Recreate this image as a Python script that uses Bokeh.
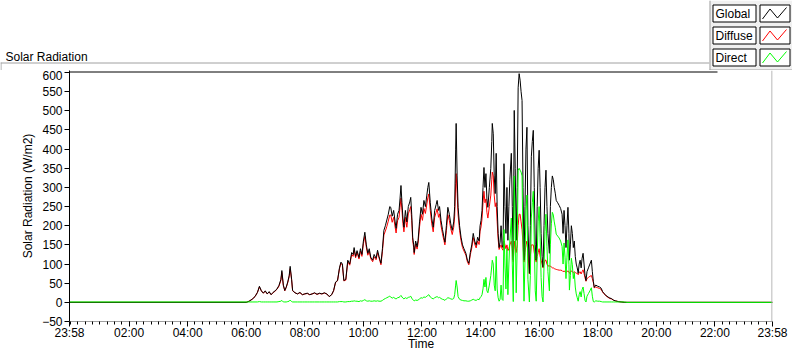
from bokeh.plotting import figure
from bokeh.layouts import column
from bokeh.models import Range1d, FixedTicker, Span
from bokeh.core.properties import value
from bokeh.embed import file_html
from bokeh.resources import INLINE

# ---------------- data (time in minutes after midnight, values in W/m2) -------------
times = [
    -2, 360, 366, 372, 378, 383, 387, 391, 395, 399, 403, 407, 411, 415, 419, 423, 427, 431, 433, 436,
    439, 442, 445, 448, 450, 453, 455, 460, 465, 470, 475, 480, 485, 490, 495, 500, 505, 510, 515, 520,
    525, 530, 535,
    539, 543, 547, 551, 554, 557, 560, 564, 568, 572,
    576, 579, 581, 584, 587, 591, 594, 597, 600, 603,
    606, 609, 612, 615, 619, 622, 626, 629, 632, 636,
    639, 642, 645, 648, 651, 654, 656, 659, 662, 665,
    667, 670, 673, 675, 677, 679, 681, 683, 686, 689,
    692, 695, 697, 699, 701, 703, 704, 707, 710, 712,
    715, 718, 721, 724, 727, 730, 732, 734, 737, 740,
    743, 746, 749, 751, 754, 756, 759, 762, 765, 767,
    770, 773, 776, 779, 782, 785, 787, 789, 790, 792,
    794, 797, 800, 803, 806, 810, 813, 816, 819, 822,
    825, 828, 831, 834, 837, 839, 841, 843, 845, 847,
    849, 851, 853, 855, 858, 861, 863, 864, 866, 868,
    870,
    872, 874, 876, 878, 880, 882, 884, 886, 888, 890,
    892, 894, 896, 898, 900, 903, 905, 907, 909, 911,
    913, 915, 917, 919, 921, 923, 925, 927, 929, 931,
    933, 935, 937, 940, 942, 944, 946, 948, 950, 952,
    954, 956, 958, 960, 962, 964, 966, 968, 970, 972,
    974, 976, 978, 981, 983, 985, 987, 989, 991, 993,
    995, 998, 1001, 1004, 1007, 1009, 1011, 1013, 1015, 1017,
    1019, 1021, 1022, 1024, 1026, 1028, 1030, 1032, 1034, 1036,
    1038, 1040, 1042, 1044, 1046, 1048, 1050, 1052, 1054, 1056,
    1058, 1061, 1064, 1067, 1069, 1071, 1073, 1076, 1080, 1084,
    1087, 1090, 1093, 1097, 1101, 1105, 1108, 1112, 1116, 1122,
    1128, 1135, 1140, 1438,
]

global_wm2 = [
    0, 0, 3, 8, 15, 26, 42, 30, 24, 30, 22, 28, 20, 26, 30, 35, 44, 60, 83, 45,
    31, 40, 53, 70, 94, 60, 31, 25, 22, 26, 20, 22, 24, 20, 22, 25, 21, 24, 22, 25,
    22, 15, 20,
    31, 53, 57, 90, 105, 100, 57, 60, 110, 100,
    130, 125, 143, 120, 135, 117, 140, 125, 160, 183,
    150, 128, 140, 118, 110, 125, 115, 136, 120, 102,
    140, 188, 200, 215, 230, 250, 248, 225, 240, 210,
    193, 230, 240, 270, 305, 260, 220, 196, 240, 210,
    250, 262, 274, 230, 170, 150, 130, 160, 145, 162,
    210, 248, 230, 266, 250, 280, 300, 313, 260, 220,
    196, 240, 255, 266, 240, 250, 214, 190, 170, 157,
    200, 248, 230, 205, 188, 210, 250, 400, 467, 330,
    248, 200, 170, 150, 140, 128, 110, 102, 130, 150,
    180, 160, 149, 170, 160, 200, 214, 240, 300, 352,
    300, 336, 270, 248, 300, 350, 420, 467, 440, 330,
    284,
    389, 250, 180, 143, 157, 200, 150, 143, 362, 250,
    180, 300, 162, 250, 320, 389, 250, 110, 501, 350,
    162, 300, 560, 597, 580, 550, 527, 300, 110, 250,
    400, 457, 200, 76, 200, 380, 420, 449, 300, 150,
    110, 250, 350, 397, 300, 180, 120, 92, 200, 300,
    345, 250, 180, 128, 250, 300, 330, 320, 300, 285,
    266, 260, 253, 245, 230, 180, 240, 200, 143, 200,
    248, 180, 110, 150, 200, 180, 143, 160, 120, 100,
    90, 76, 100, 110, 90, 115, 128, 100, 70, 57,
    80, 90, 100, 110, 80, 55, 39, 45, 42, 40,
    37, 28, 23, 18, 14, 11, 10, 6, 4, 2,
    1, 0, 0, 0,
]

diffuse_wm2 = [
    0, 0, 3, 8, 15, 26, 40, 30, 24, 29, 22, 27, 20, 25, 29, 34, 42, 57, 78, 44,
    30, 39, 51, 67, 88, 58, 30, 25, 22, 25, 20, 22, 23, 20, 22, 24, 21, 23, 22, 24,
    22, 15, 20,
    30, 52, 56, 88, 102, 97, 56, 58, 106, 97,
    125, 120, 137, 116, 130, 113, 134, 120, 153, 172,
    144, 123, 134, 114, 106, 119, 111, 130, 116, 98,
    133, 176, 186, 198, 212, 228, 228, 209, 222, 196,
    181, 213, 222, 248, 272, 240, 205, 184, 222, 196,
    231, 242, 250, 214, 161, 143, 125, 152, 139, 154,
    197, 230, 214, 245, 232, 257, 273, 283, 240, 205,
    184, 222, 235, 244, 222, 231, 200, 179, 161, 150,
    187, 229, 214, 192, 177, 196, 225, 310, 336, 285,
    228, 188, 161, 143, 134, 123, 106, 98, 124, 142,
    169, 152, 142, 160, 151, 186, 197, 218, 260, 290,
    260, 270, 235, 220, 250, 280, 320, 340, 330, 280,
    250,
    260, 210, 165, 138, 145, 150, 140, 136, 160, 150,
    140, 150, 135, 140, 150, 160, 140, 105, 160, 140,
    130, 150, 200, 230, 230, 210, 190, 150, 105, 130,
    150, 160, 130, 74, 120, 150, 150, 150, 130, 115,
    105, 120, 130, 140, 120, 110, 100, 90, 100, 110,
    110, 100, 95, 95, 95, 92, 90, 90, 88, 87,
    86, 85, 84, 84, 83, 80, 82, 80, 78, 80,
    82, 80, 76, 78, 82, 80, 78, 80, 78, 76,
    76, 72, 78, 80, 74, 80, 85, 75, 64, 55,
    62, 65, 68, 70, 62, 52, 38, 40, 38, 36,
    34, 27, 22, 17, 13, 10, 9, 6, 4, 2,
    1, 0, 0, 0,
]

direct_wm2 = [
    1, 1, 1, 1, 1, 1, 2, 1, 1, 1, 1, 1, 1, 1, 1, 1, 2, 3, 5, 1,
    1, 1, 2, 3, 6, 2, 1, 1, 1, 1, 1, 1, 1, 1, 1, 1, 1, 1, 1, 1,
    1, 1, 1,
    1, 1, 1, 2, 2, 2, 1, 1, 2, 2,
    3, 3, 4, 3, 3, 2, 4, 3, 5, 7,
    4, 3, 4, 3, 3, 4, 3, 4, 3, 3,
    5, 8, 10, 12, 14, 16, 14, 11, 13, 10,
    9, 12, 13, 15, 18, 14, 11, 9, 12, 10,
    13, 14, 16, 11, 7, 5, 4, 6, 5, 6,
    9, 12, 11, 14, 13, 16, 18, 20, 14, 11,
    9, 12, 14, 15, 12, 13, 10, 8, 7, 5,
    9, 12, 11, 9, 8, 10, 20, 45, 57, 40,
    15, 8, 6, 5, 4, 4, 3, 3, 4, 6,
    8, 6, 5, 8, 7, 12, 15, 20, 35, 60,
    40, 65, 30, 25, 45, 70, 95, 110, 100, 45,
    30,
    120, 35, 12, 3, 8, 45, 8, 5, 190, 95,
    35, 140, 20, 100, 160, 220, 100, 2, 330, 200,
    25, 140, 345, 350, 345, 340, 330, 140, 3, 110,
    240, 280, 60, 1, 70, 220, 260, 290, 160, 30,
    3, 120, 210, 250, 170, 65, 15, 1, 95, 185,
    230, 145, 80, 30, 150, 205, 235, 228, 210, 196,
    178, 173, 168, 160, 146, 100, 155, 118, 62, 118,
    163, 98, 32, 70, 115, 98, 62, 78, 40, 22,
    12, 3, 20, 28, 14, 33, 40, 23, 5, 1,
    16, 23, 30, 38, 16, 2, 1, 4, 3, 3,
    2, 1, 1, 1, 1, 1, 1, 1, 1, 1,
    1, 1, 0, 0,
]

series_names = ["Global", "Diffuse", "Direct"]
series_colors = ["#000000", "#ff0000", "#00ff00"]

x_tick_pos = [-2, 120, 240, 360, 480, 600, 720, 840, 960, 1080, 1200, 1320, 1438]
x_tick_labels = ["23:58", "02:00", "04:00", "06:00", "08:00", "10:00", "12:00",
                 "14:00", "16:00", "18:00", "20:00", "22:00", "23:58"]
x_minor_step = 15
y_ticks = [-50, 0, 50, 100, 150, 200, 250, 300, 350, 400, 450, 500, 550, 600]

# ---------------- layout constants -------------
W = 792
HT = 70            # height of the header strip (title + legend)
HM = 353 - HT      # height of the chart
FONT = "Liberation Sans"
GREY = "#a0a0a0"

# ---------------- header strip (title, separator line, legend) -------------
top = figure(width=W, height=HT, output_backend="svg", toolbar_location=None,
             x_range=Range1d(0, W), y_range=Range1d(HT, 0),
             x_axis_type=None, y_axis_type=None,
             min_border=0, min_border_left=0, min_border_right=0,
             min_border_top=0, min_border_bottom=0)
top.frame_align = False
top.outline_line_color = None
top.xgrid.visible = False
top.ygrid.visible = False
top.background_fill_color = "white"
top.border_fill_color = "white"
if top.title is not None:
    top.title.visible = False

top.text(x=[5], y=[56], text=["Solar Radiation"], text_font=value(FONT),
         text_font_size=value("12px"), text_color="black",
         text_baseline="alphabetic", text_align="left")
# panel separator line and left edge
top.segment(x0=[0], y0=[62.5], x1=[709], y1=[62.5], line_color=GREY, line_width=1)
top.segment(x0=[0.5], y0=[62], x1=[0.5], y1=[HT], line_color=GREY, line_width=1)

# legend panel
top.quad(left=[709], right=[W], top=[0], bottom=[HT], fill_color="#f0f0f0", line_color=None)
top.segment(x0=[709.5], y0=[0], x1=[709.5], y1=[HT], line_color=GREY, line_width=1)
top.segment(x0=[709], y0=[69.5], x1=[W], y1=[69.5], line_color=GREY, line_width=1)
row_tops = [4.5, 26.5, 48.5]
for name, color, t in zip(series_names, series_colors, row_tops):
    b = t + 17
    top.quad(left=[712.5], right=[755.5], top=[t], bottom=[b], fill_color="white",
             line_color="black", line_width=1)
    top.quad(left=[759.5], right=[789.5], top=[t], bottom=[b], fill_color="white",
             line_color="black", line_width=1)
    top.text(x=[715], y=[t + 8.5], text=[name], text_font=value(FONT),
             text_font_size=value("12px"), text_color="black",
             text_baseline="middle", text_align="left")
    top.line(x=[762, 769.5, 777, 786], y=[t + 14, t + 4, t + 13, t + 2.5],
             line_color=color, line_width=1)

# ---------------- chart -------------
FL, FR, FT, FB = 69, 20, 0, 32
FW = W - FL - FR
FH = HM - FT - FB
K = (FH - 2) / 650.0              # pixels per W/m2 (600 sits 2 px below the frame top)
Y0 = -50
Y1 = 600 + 2 / K
X0, X1 = -2, 1438
PX = (X1 - X0) / FW               # minutes per pixel

p = figure(width=W, height=HM, output_backend="svg", toolbar_location=None,
           x_range=Range1d(X0, X1), y_range=Range1d(Y0, Y1),
           min_border_left=FL, min_border_right=FR, min_border_top=FT, min_border_bottom=FB)
p.frame_align = False
if p.title is not None:
    p.title.visible = False
p.outline_line_color = None
p.background_fill_color = "white"
p.border_fill_color = "white"
p.xgrid.visible = False
p.ygrid.visible = False

# series (diffuse under global, direct on top)
p.line(times, diffuse_wm2, line_color=series_colors[1], line_width=1)
p.line(times, global_wm2, line_color=series_colors[0], line_width=1)
p.line(times, direct_wm2, line_color=series_colors[2], line_width=1)

xa = p.xaxis[0]
xa.ticker = FixedTicker(ticks=x_tick_pos, minor_ticks=list(range(0, 1440, x_minor_step)))
xa.major_label_overrides = {k: v for k, v in zip(x_tick_pos, x_tick_labels)}
xa.axis_line_color = GREY
xa.major_tick_out = 5
xa.major_tick_in = 0
xa.minor_tick_out = 3
xa.minor_tick_in = 0
xa.major_tick_line_color = "black"
xa.minor_tick_line_color = "black"
xa.major_label_standoff = -1
xa.axis_label = "Time"
xa.axis_label_standoff = -6

ya = p.yaxis[0]
ya.ticker = FixedTicker(ticks=y_ticks, minor_ticks=[])
ya.axis_line_color = "black"
ya.major_tick_out = 5
ya.major_tick_in = 0
ya.minor_tick_out = 0
ya.minor_tick_in = 0
ya.major_tick_line_color = "black"
ya.major_label_standoff = 2
ya.axis_label = "Solar Radiation (W/m2)"
ya.axis_label_standoff = 4

for ax in (xa, ya):
    ax.major_label_text_font = FONT
    ax.major_label_text_font_size = "12px"
    ax.major_label_text_color = "black"
    ax.axis_label_text_font = FONT
    ax.axis_label_text_font_size = "12px"
    ax.axis_label_text_font_style = "normal"
    ax.axis_label_text_color = "black"

# frame top edge (black, hidden behind the legend panel on the right) and right edge (grey)
y_top_edge = Y1 - 1.5 / K
p.segment(x0=[X0], y0=[y_top_edge], x1=[X0 + (717 - FL) * PX], y1=[y_top_edge],
          line_color="black", line_width=1)
p.add_layout(Span(location=X1 - 0.5 * PX, dimension="height", line_color=GREY, line_width=1))

layout = column(top, p, spacing=0)
open("out.html", "w").write(file_html(layout, INLINE))
